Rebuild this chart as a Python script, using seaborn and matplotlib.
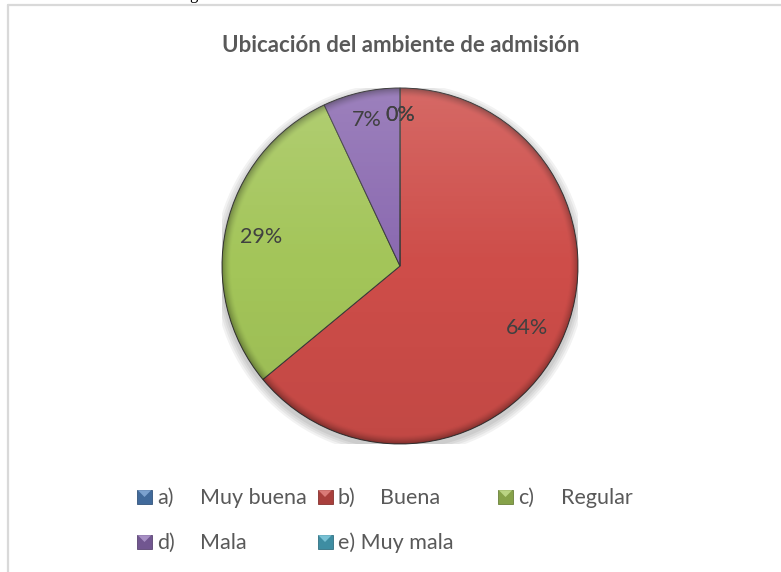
import numpy as np
import matplotlib
matplotlib.use("Agg")
import matplotlib.pyplot as plt
from matplotlib.patches import Rectangle, Circle, Polygon
from matplotlib.lines import Line2D
import seaborn as sns

# ---- data -------------------------------------------------------------
title = "Ubicación del ambiente de admisión"
categories = ["a)\tMuy buena", "b)\tBuena", "c)\tRegular", "d)\tMala", "e) Muy mala"]
percentages = [0, 64, 29, 7, 0]
slice_colors = ["#4F81BD", "#CE4D49", "#A3C559", "#8A69B0", "#4BACC6"]

# ---- style ------------------------------------------------------------
sns.set_theme(style="white")
plt.rcParams["font.family"] = ["Lato", "DejaVu Sans"]
palette = sns.color_palette(slice_colors)
TEXT = "#595959"

W, H = 781, 572
fig = plt.figure(figsize=(W / 100, H / 100), dpi=100)
fig.patch.set_facecolor("white")


def fx(x):
    return x / W


def fy(y):
    return 1 - y / H


# chart frame (top and left edges visible)
fig.add_artist(Line2D([fx(8), 1], [fy(4.5), fy(4.5)], transform=fig.transFigure,
                      color="#d9d9d9", lw=1.6))
fig.add_artist(Line2D([fx(8), fx(8)], [fy(4.5), 0], transform=fig.transFigure,
                      color="#d9d9d9", lw=1.6))
# descender of the surrounding document line
fig.text(fx(189), 1 + 0.6 / H, "g", fontsize=12, family="Liberation Serif",
         color="#000000", va="baseline", ha="left")

# ---- pie --------------------------------------------------------------
cx, cy, r = 400, 266, 178
ax = fig.add_axes([fx(cx - r), fy(cy + r), 2 * r / W, 2 * r / H])

# soft shadow beneath the pie
for k, a in enumerate([0.05, 0.05, 0.05, 0.06]):
    ax.add_patch(Circle((0, -0.018), 1.0 + 0.012 * (4 - k), color="#000000",
                        alpha=a, lw=0, zorder=0))

wedges, _ = ax.pie(percentages, colors=palette, startangle=90, counterclock=False,
                   radius=1.0,
                   wedgeprops=dict(edgecolor="#3a3a3a", linewidth=0.7))
for w in wedges:
    w.set_zorder(1)

# light-to-dark shading with a darker bevel at the rim
n = 400
yy, xx = np.mgrid[1:-1:n * 1j, -1:1:n * 1j]
rr = np.hypot(xx, yy)
shade = np.zeros((n, n, 4))
top = np.clip(yy, 0, 1)
bot = np.clip(-yy, 0, 1)
rim = np.clip((rr - 0.95) / 0.05, 0, 1)
white_a = 0.16 * top
black_a = 0.06 * bot + 0.32 * rim ** 1.5
alpha = white_a + black_a
col = np.where(alpha[..., None] > 0,
               (white_a[..., None] * 1.0) / np.maximum(alpha[..., None], 1e-9), 0)
shade[..., :3] = col
shade[..., 3] = np.clip(alpha, 0, 1)
im = ax.imshow(shade, extent=[-1, 1, -1, 1], zorder=2, interpolation="bilinear")
clip = Circle((0, 0), 1.0, transform=ax.transData)
im.set_clip_path(clip)

# percentage labels placed along each wedge's mid angle
label_dist = [0.86, 0.79, 0.80, 0.85, 0.86]
for w, v, d in zip(wedges, percentages, label_dist):
    mid = np.deg2rad((w.theta1 + w.theta2) / 2)
    ax.text(d * np.cos(mid), d * np.sin(mid), f"{v}%", ha="center",
            va="center_baseline", fontsize=15.5, color="#404040", zorder=5)

ax.set_xlim(-1, 1)
ax.set_ylim(-1, 1)
ax.set_aspect("equal")
ax.axis("off")

# ---- title ------------------------------------------------------------
fig.text(fx(401), fy(52), title, ha="center", va="baseline", fontsize=16,
         fontweight="bold", color=TEXT)

# ---- legend -----------------------------------------------------------
col_x = [137, 317.5, 498]
row_base = [504, 549]
for i, (lab, c) in enumerate(zip(categories, palette)):
    row, col = divmod(i, 3)
    x0 = col_x[col]
    yb = row_base[row]
    base = np.array(c)
    # bevelled key: darker square with a lighter wedge facing up
    fig.add_artist(Rectangle((fx(x0), fy(yb - 0.5)), 15 / W, 14 / H,
                             transform=fig.transFigure, facecolor=base * 0.82,
                             edgecolor=tuple(base * 0.65), lw=0.6))
    light = np.clip(base + (1 - base) * 0.25, 0, 1)
    fig.add_artist(Polygon([(fx(x0 + 0.8), fy(yb - 13.8)),
                            (fx(x0 + 14.2), fy(yb - 13.8)),
                            (fx(x0 + 7.5), fy(yb - 7))],
                           closed=True, transform=fig.transFigure,
                           facecolor=light, lw=0))
    parts = lab.split("\t")
    fig.text(fx(x0 + 20), fy(yb), parts[0], ha="left", va="baseline",
             fontsize=15.5, color=TEXT)
    if len(parts) > 1:
        fig.text(fx(x0 + 63), fy(yb), parts[1], ha="left", va="baseline",
                 fontsize=15.5, color=TEXT)

fig.savefig("out.png", dpi=100, facecolor="white")
